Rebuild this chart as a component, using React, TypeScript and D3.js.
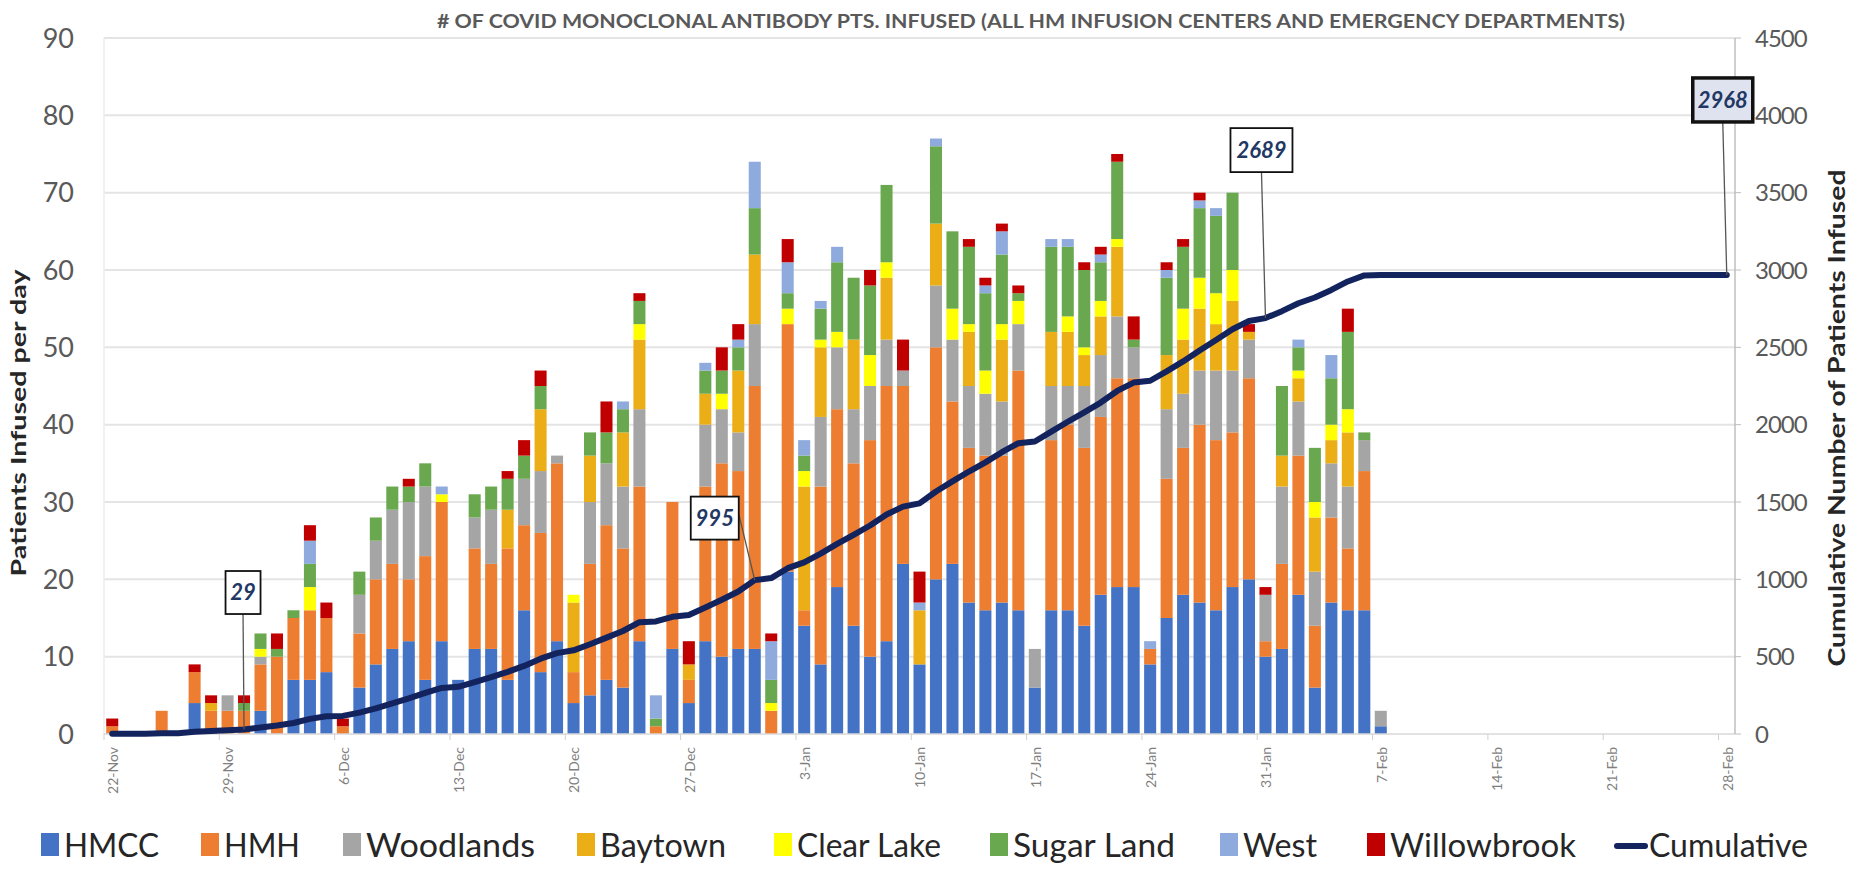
import React, { useRef, useEffect } from 'react';
import * as d3 from 'd3';

const W = 1853;
const H = 870;

const START_DAY = new Date(2020, 10, 22);
const END_DAY = new Date(2021, 1, 28);

const SERIES = ['HMCC', 'HMH', 'Woodlands', 'Baytown', 'Clear Lake', 'Sugar Land', 'West', 'Willowbrook'];
const COLORS = ['#4472C4', '#ED7D31', '#A5A5A5', '#EBAE17', '#FFFF00', '#6AA84F', '#8FAADC', '#C00000'];

// patients infused per day, 22-Nov .. 7-Feb (one value per day)
const hmcc = [
  0, 0, 0, 0, 0, 4, 0, 0, 0, 3,
  0, 7, 7, 8, 0, 6, 9, 11, 12, 7,
  12, 7, 11, 11, 7, 16, 8, 12, 4, 5,
  7, 6, 12, 0, 11, 4, 12, 10, 11, 11,
  0, 21, 14, 9, 19, 14, 10, 12, 22, 9,
  20, 22, 17, 16, 17, 16, 6, 16, 16, 14,
  18, 19, 19, 9, 15, 18, 17, 16, 19, 20,
  10, 11, 18, 6, 17, 16, 16, 1
];
const hmh = [
  1, 0, 0, 3, 0, 4, 3, 3, 3, 6,
  10, 8, 9, 7, 1, 7, 11, 11, 8, 16,
  18, 0, 13, 11, 17, 11, 18, 23, 4, 17,
  20, 18, 20, 1, 19, 3, 20, 25, 23, 34,
  3, 32, 2, 23, 23, 21, 28, 33, 23, 0,
  30, 21, 20, 20, 19, 31, 0, 22, 24, 23,
  23, 27, 27, 2, 18, 19, 23, 22, 20, 26,
  2, 11, 18, 8, 11, 8, 18, 0
];
const woodlands = [
  0, 0, 0, 0, 0, 0, 0, 2, 0, 1,
  0, 0, 0, 0, 0, 5, 5, 7, 10, 9,
  0, 0, 4, 7, 0, 6, 8, 1, 0, 8,
  8, 8, 10, 0, 0, 0, 8, 7, 5, 8,
  0, 0, 0, 9, 8, 7, 7, 6, 2, 0,
  8, 8, 8, 8, 7, 6, 5, 7, 5, 8,
  8, 8, 4, 0, 9, 7, 7, 9, 8, 5,
  6, 10, 7, 7, 7, 8, 4, 2
];
const baytown = [
  0, 0, 0, 0, 0, 0, 1, 0, 0, 0,
  0, 0, 0, 0, 0, 0, 0, 0, 0, 0,
  0, 0, 0, 0, 5, 0, 8, 0, 9, 6,
  0, 7, 9, 0, 0, 2, 4, 0, 8, 9,
  0, 0, 16, 9, 0, 9, 0, 8, 0, 7,
  8, 0, 7, 0, 8, 0, 0, 7, 7, 4,
  5, 9, 0, 0, 7, 7, 8, 6, 9, 1,
  0, 4, 3, 7, 3, 7, 0, 0
];
const clearLake = [
  0, 0, 0, 0, 0, 0, 0, 0, 0, 1,
  0, 0, 3, 0, 0, 0, 0, 0, 0, 0,
  1, 0, 0, 0, 0, 0, 0, 0, 1, 0,
  0, 0, 2, 0, 0, 0, 0, 2, 0, 0,
  1, 2, 2, 1, 2, 0, 4, 2, 0, 0,
  0, 4, 1, 3, 2, 3, 0, 0, 2, 1,
  2, 1, 0, 0, 0, 4, 4, 4, 4, 0,
  0, 0, 1, 2, 2, 3, 0, 0
];
const sugarLand = [
  0, 0, 0, 0, 0, 0, 0, 0, 1, 2,
  1, 1, 3, 0, 0, 3, 3, 3, 2, 3,
  0, 0, 3, 3, 4, 3, 3, 0, 0, 3,
  4, 3, 3, 1, 0, 0, 3, 3, 3, 6,
  3, 2, 2, 4, 9, 8, 9, 10, 0, 0,
  10, 10, 10, 10, 9, 1, 0, 11, 9, 10,
  5, 10, 1, 0, 10, 8, 9, 10, 10, 0,
  0, 9, 3, 7, 6, 10, 1, 0
];
const west = [
  0, 0, 0, 0, 0, 0, 0, 0, 0, 0,
  0, 0, 3, 0, 0, 0, 0, 0, 0, 0,
  1, 0, 0, 0, 0, 0, 0, 0, 0, 0,
  0, 1, 0, 3, 0, 0, 1, 0, 1, 6,
  5, 4, 2, 1, 2, 0, 0, 0, 0, 1,
  1, 0, 0, 1, 3, 0, 0, 1, 1, 0,
  1, 0, 0, 1, 1, 0, 1, 1, 0, 0,
  0, 0, 1, 0, 3, 0, 0, 0
];
const willowbrook = [
  1, 0, 0, 0, 0, 1, 1, 0, 1, 0,
  2, 0, 2, 2, 1, 0, 0, 0, 1, 0,
  0, 0, 0, 0, 1, 2, 2, 0, 0, 0,
  4, 0, 1, 0, 0, 3, 0, 3, 2, 0,
  1, 3, 0, 0, 0, 0, 2, 0, 4, 4,
  0, 0, 1, 1, 1, 1, 0, 0, 0, 1,
  1, 1, 3, 0, 1, 1, 1, 0, 0, 1,
  1, 0, 0, 0, 0, 3, 0, 0
];

// days (index from 22-Nov) where the cumulative total is called out
const CALLOUT_DAYS = [8, 39, 70, 98];

const FONT = "Lato, 'Open Sans', sans-serif";

const App: React.FC = () => {
  const svgRef = useRef<SVGSVGElement>(null);

  useEffect(() => {
    if (!svgRef.current) return;
    const svg = d3.select(svgRef.current);
    svg.selectAll('*').remove();

    const days = d3.timeDay.range(START_DAY, d3.timeDay.offset(END_DAY, 1));
    const series = [hmcc, hmh, woodlands, baytown, clearLake, sugarLand, west, willowbrook];
    const rows = days.map((_, i) => {
      const r: any = { i };
      SERIES.forEach((s, k) => { r[s] = series[k][i] ?? 0; });
      return r;
    });
    const daily = days.map((_, i) => d3.sum(series, s => s[i] ?? 0));
    const cumulative = Array.from(d3.cumsum(daily));

    const left = 104, right = 1735, top = 38, bottom = 734;

    const x = d3.scaleBand<number>()
      .domain(d3.range(days.length))
      .range([left, right])
      .paddingInner(0.27)
      .paddingOuter(0.135);
    const cx = (i: number) => (x(i) as number) + x.bandwidth() / 2;
    const y = d3.scaleLinear().domain([0, 90]).range([bottom, top]);
    const y2 = d3.scaleLinear().domain([0, 4500]).range([bottom, top]);
    const color = d3.scaleOrdinal<string>().domain(SERIES).range(COLORS);

    svg.append('rect').attr('width', W).attr('height', H).attr('fill', '#fff');

    // gridlines
    const grid = svg.append('g');
    grid.selectAll('line')
      .data(y.ticks(9).filter(t => t > 0))
      .enter()
      .append('line')
      .attr('x1', left).attr('x2', right)
      .attr('y1', d => y(d)).attr('y2', d => y(d))
      .attr('stroke', '#e4e4e4')
      .attr('stroke-width', 2);
    grid.append('line')
      .attr('x1', left).attr('x2', left)
      .attr('y1', top).attr('y2', bottom)
      .attr('stroke', '#ededed').attr('stroke-width', 1.5);

    // stacked bars
    const stacked = d3.stack<any>().keys(SERIES)(rows);
    const layers = svg.append('g')
      .selectAll('g')
      .data(stacked)
      .enter()
      .append('g')
      .attr('fill', d => color(d.key));
    layers.selectAll('rect')
      .data(d => d.filter(p => p[1] - p[0] > 0))
      .enter()
      .append('rect')
      .attr('x', d => x(d.data.i) as number)
      .attr('width', x.bandwidth())
      .attr('y', d => y(d[1]))
      .attr('height', d => y(d[0]) - y(d[1]));

    // x axis baseline + ticks
    svg.append('line')
      .attr('x1', left).attr('x2', right)
      .attr('y1', bottom).attr('y2', bottom)
      .attr('stroke', '#d9d9d9').attr('stroke-width', 1.5);

    const weekIdx = d3.range(0, days.length, 7);
    const fmt = d3.timeFormat('%-d-%b');
    svg.append('g')
      .selectAll('line')
      .data(weekIdx)
      .enter()
      .append('line')
      .attr('x1', i => (x(i) as number) - x.step() * 0.135)
      .attr('x2', i => (x(i) as number) - x.step() * 0.135)
      .attr('y1', bottom).attr('y2', bottom + 6)
      .attr('stroke', '#d0d0d0');
    svg.append('g')
      .selectAll('text')
      .data(weekIdx)
      .enter()
      .append('text')
      .attr('transform', i => `translate(${cx(i) + 1},${bottom + 13}) rotate(-90)`)
      .attr('text-anchor', 'end')
      .attr('dy', '0.35em')
      .style('font-family', FONT)
      .style('font-size', '14px')
      .style('fill', '#7f7f7f')
      .text(i => fmt(days[i]));

    // left axis labels
    svg.append('g')
      .selectAll('text')
      .data(y.ticks(9))
      .enter()
      .append('text')
      .attr('x', 74)
      .attr('y', d => y(d))
      .attr('dy', '0.36em')
      .attr('text-anchor', 'end')
      .style('font-family', FONT)
      .style('font-size', '27px')
      .style('fill', '#595959')
      .text(d => d);

    // right axis
    svg.append('line')
      .attr('x1', right).attr('x2', right)
      .attr('y1', top).attr('y2', bottom)
      .attr('stroke', '#bfbfbf').attr('stroke-width', 1.5);
    const rTicks = y2.ticks(9);
    svg.append('g')
      .selectAll('line')
      .data(rTicks)
      .enter()
      .append('line')
      .attr('x1', right).attr('x2', right + 6)
      .attr('y1', d => y2(d)).attr('y2', d => y2(d))
      .attr('stroke', '#bfbfbf');
    svg.append('g')
      .selectAll('text')
      .data(rTicks)
      .enter()
      .append('text')
      .attr('x', 1755)
      .attr('y', d => y2(d))
      .attr('dy', '0.36em')
      .style('font-family', FONT)
      .style('font-size', '24px')
      .style('letter-spacing', '-1px')
      .style('fill', '#595959')
      .text(d => d);

    // cumulative line
    const line = d3.line<number>()
      .x((_, i) => cx(i))
      .y(v => y2(v));
    svg.append('path')
      .datum(cumulative)
      .attr('d', line)
      .attr('fill', 'none')
      .attr('stroke', '#13235E')
      .attr('stroke-width', 6)
      .attr('stroke-linejoin', 'round')
      .attr('stroke-linecap', 'round');

    // callouts
    const boxLayout = [
      { dx: -1, dy: -137, w: 35, h: 43, ax: 0, ay: 1, heavy: false },
      { dx: -40, dy: -62, w: 48, h: 43, ax: 1, ay: 0, heavy: false },
      { dx: -4, dy: -168, w: 62, h: 44, ax: 0, ay: 1, heavy: false },
      { dx: -4, dy: -175, w: 60, h: 44, ax: 0, ay: 1, heavy: true }
    ];
    CALLOUT_DAYS.forEach((dayIdx, k) => {
      const b = boxLayout[k];
      const px = cx(dayIdx);
      const py = y2(cumulative[dayIdx]);
      const bx = px + b.dx;
      const by = py + b.dy;
      const g = svg.append('g');
      const sx = b.ax ? bx + b.w / 2 : bx;
      const sy = b.ay ? by + b.h / 2 : by - 4;
      g.append('line')
        .attr('x1', sx).attr('y1', sy)
        .attr('x2', px).attr('y2', py)
        .attr('stroke', '#555').attr('stroke-width', 1.3);
      g.append('rect')
        .attr('x', bx - b.w / 2).attr('y', by - b.h / 2)
        .attr('width', b.w).attr('height', b.h)
        .attr('fill', b.heavy ? '#dfe3ef' : '#fff')
        .attr('stroke', '#111')
        .attr('stroke-width', b.heavy ? 3.5 : 1.8);
      g.append('text')
        .attr('x', bx).attr('y', by)
        .attr('dy', '0.36em')
        .attr('text-anchor', 'middle')
        .style('font-family', FONT)
        .style('font-size', '22px')
        .style('font-weight', 'bold')
        .style('font-style', 'italic')
        .style('fill', '#1F3864')
        .text(d3.format('d')(cumulative[dayIdx]));
    });

    // title
    svg.append('text')
      .attr('x', 437).attr('y', 28)
      .attr('textLength', 1188)
      .attr('lengthAdjust', 'spacingAndGlyphs')
      .style('font-family', FONT)
      .style('font-size', '18px')
      .style('font-weight', 'bold')
      .style('fill', '#595959')
      .text('# OF COVID MONOCLONAL ANTIBODY PTS. INFUSED (ALL HM INFUSION CENTERS AND EMERGENCY DEPARTMENTS)');

    // axis titles
    svg.append('text')
      .attr('transform', 'translate(26,423) rotate(-90)')
      .attr('text-anchor', 'middle')
      .attr('textLength', 307)
      .attr('lengthAdjust', 'spacingAndGlyphs')
      .style('font-family', FONT)
      .style('font-size', '21px')
      .style('font-weight', 'bold')
      .style('fill', '#262626')
      .text('Patients Infused per day');
    svg.append('text')
      .attr('transform', 'translate(1845,418) rotate(-90)')
      .attr('text-anchor', 'middle')
      .attr('textLength', 497)
      .attr('lengthAdjust', 'spacingAndGlyphs')
      .style('font-family', FONT)
      .style('font-size', '22px')
      .style('font-weight', 'bold')
      .style('fill', '#262626')
      .text('Cumulative Number of Patients Infused');

    // legend
    const legendX = [41, 201, 343, 577, 774, 990, 1220, 1367];
    const legendW = [95, 76, 169, 126, 144, 162, 74, 186];
    const legend = svg.append('g');
    SERIES.forEach((s, k) => {
      legend.append('rect')
        .attr('x', legendX[k]).attr('y', 833)
        .attr('width', 18).attr('height', 23)
        .attr('fill', color(s));
      legend.append('text')
        .attr('x', legendX[k] + 23).attr('y', 857)
        .attr('textLength', legendW[k])
        .attr('lengthAdjust', 'spacingAndGlyphs')
        .style('font-family', FONT)
        .style('font-size', '32px')
        .style('fill', '#262626')
        .text(s);
    });
    legend.append('line')
      .attr('x1', 1617).attr('x2', 1645)
      .attr('y1', 846).attr('y2', 846)
      .attr('stroke', '#13235E').attr('stroke-width', 6)
      .attr('stroke-linecap', 'round');
    legend.append('text')
      .attr('x', 1649).attr('y', 857)
      .attr('textLength', 159)
      .attr('lengthAdjust', 'spacingAndGlyphs')
      .style('font-family', FONT)
      .style('font-size', '32px')
      .style('fill', '#262626')
      .text('Cumulative');
  }, []);

  return (
    <svg
      ref={svgRef}
      width={W}
      height={H}
      viewBox={`0 0 ${W} ${H}`}
      style={{ position: 'absolute', left: 0, top: 0, display: 'block' }}
    />
  );
};

export default App;
